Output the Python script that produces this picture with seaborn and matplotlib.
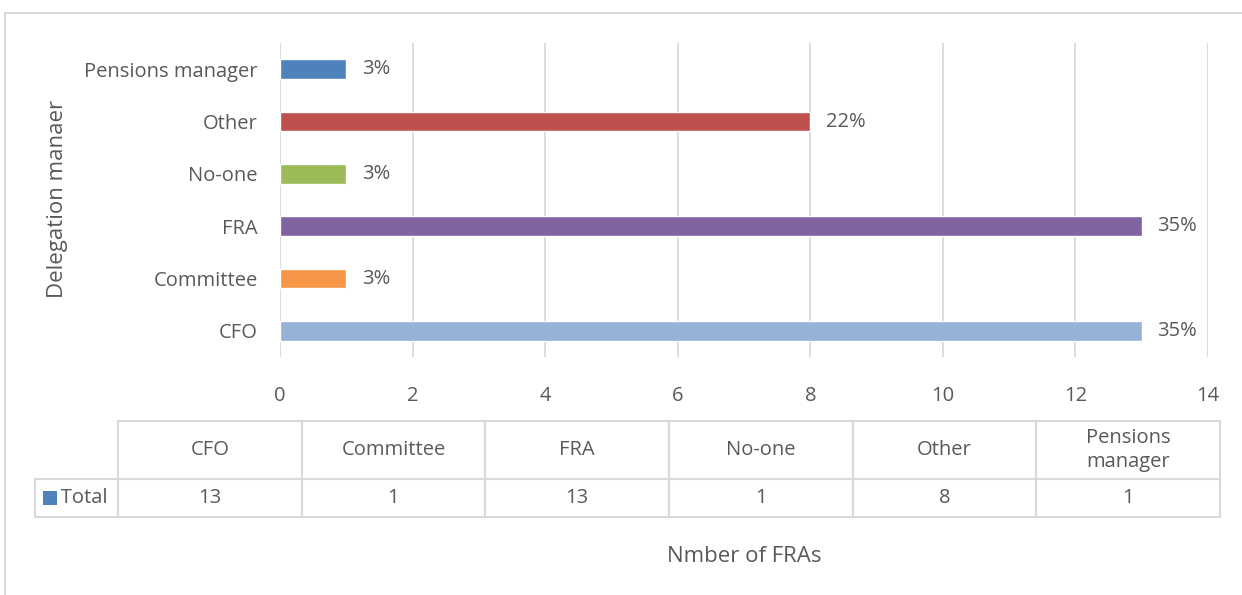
import numpy as np
import pandas as pd
import matplotlib.pyplot as plt
import seaborn as sns
from matplotlib.patches import Rectangle

# Chart data
categories = ["CFO", "Committee", "FRA", "No-one", "Other", "Pensions manager"]
counts = [13, 1, 13, 1, 8, 1]
bar_colors = ["#95B3D7", "#F79646", "#8064A2", "#9BBB59", "#C0504D", "#4F81BD"]
x_ticks = [0, 2, 4, 6, 8, 10, 12, 14]
series_name = "Total"

df = pd.DataFrame({"category": categories, "count": counts})
total = df["count"].sum()
pct_labels = [f"{round(c / total * 100):.0f}%" for c in counts]

sns.set_style("white")
plt.rcParams["font.family"] = ["Open Sans", "DejaVu Sans"]
text_col = "#595959"
grid_col = "#D9D9D9"
fs = 14.5

W, H = 1242, 595
fig = plt.figure(figsize=(W / 100, H / 100), dpi=100)

# outer chart border
fig.patches.append(Rectangle((5 / W, -0.01), 1.02, 1 - 13 / H + 0.01, transform=fig.transFigure,
                             fill=False, edgecolor=grid_col, linewidth=1.5))

ax = fig.add_axes([280 / W, 1 - 357 / H, (1208 - 280) / W, (357 - 43) / H])
order = categories[::-1]
palette = dict(zip(categories, bar_colors))
sns.barplot(data=df, x="count", y="category", hue="category", order=order,
            palette=palette, orient="h", width=0.38, legend=False, saturation=1, ax=ax)

ax.set_xlim(0, 14)
ax.set_ylim(len(order) - 0.5, -0.5)
ax.set_xticks(x_ticks)
ax.xaxis.grid(True, color=grid_col, linewidth=1.3)
ax.set_axisbelow(True)
for s in ax.spines.values():
    s.set_visible(False)
ax.tick_params(axis="x", length=0, pad=21, labelsize=fs, labelcolor=text_col)
ax.tick_params(axis="y", length=0, pad=16, labelsize=fs, labelcolor=text_col)
ax.set_xlabel("")
ax.set_ylabel("")

# percentage labels at bar ends
lab_map = dict(zip(categories, pct_labels))
for bar in ax.patches:
    y = bar.get_y() + bar.get_height() / 2
    name = order[int(round(y))]
    ax.annotate(lab_map[name], (bar.get_width(), y), xytext=(11, 0),
                textcoords="offset points", va="center", ha="left",
                fontsize=fs, color=text_col)

# data table below the chart
tab_ax = fig.add_axes([35 / W, 1 - 517 / H, (1220 - 35) / W, (517 - 421) / H])
tab_ax.axis("off")
header = [""] + [c if c != "Pensions manager" else "Pensions\nmanager" for c in categories]
row = ["   " + series_name] + [str(c) for c in counts]
tbl = tab_ax.table(cellText=[header, row], cellLoc="center", bbox=[0, 0, 1, 1])
tbl.auto_set_font_size(False)
col_w = [83] + [184] * len(categories)
row_h = [58, 38]
for (r, c), cell in tbl.get_celld().items():
    cell.set_width(col_w[c])
    cell.set_height(row_h[r])
    cell.set_edgecolor(grid_col)
    cell.set_linewidth(1.5)
    cell.get_text().set_color(text_col)
    cell.get_text().set_fontsize(fs)
    cell.get_text().set_linespacing(1.25)
    if r == 0 and c == 0:
        cell.visible_edges = ""
tab_ax.add_patch(Rectangle(((43 - 35) / (1220 - 35), (517 - 505) / (517 - 421)),
                           14 / (1220 - 35), 14 / (517 - 421), transform=tab_ax.transAxes,
                           facecolor=bar_colors[-1], edgecolor="none", zorder=5))

fig.text(744 / W, 1 - 556 / H, "Nmber of FRAs", ha="center", va="center",
         fontsize=16, color=text_col)
fig.text(58 / W, 1 - 199 / H, "Delegation manaer", ha="center", va="center",
         rotation=90, fontsize=16, color=text_col)

fig.savefig("out.png", dpi=100)
